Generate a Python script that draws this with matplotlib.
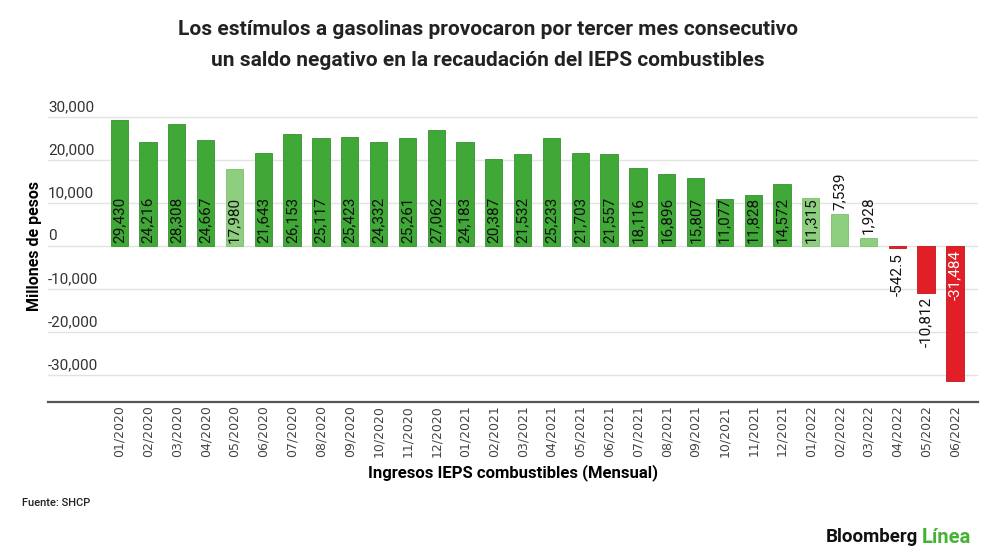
import matplotlib
matplotlib.use("Agg")
import matplotlib.pyplot as plt
import numpy as np

plt.rcParams['font.family'] = ['Roboto', 'DejaVu Sans']

months = ["01/2020", "02/2020", "03/2020", "04/2020", "05/2020", "06/2020",
          "07/2020", "08/2020", "09/2020", "10/2020", "11/2020", "12/2020",
          "01/2021", "02/2021", "03/2021", "04/2021", "05/2021", "06/2021",
          "07/2021", "08/2021", "09/2021", "10/2021", "11/2021", "12/2021",
          "01/2022", "02/2022", "03/2022", "04/2022", "05/2022", "06/2022"]
values = [29430, 24216, 28308, 24667, 17980, 21643,
          26153, 25117, 25423, 24332, 25261, 27062,
          24183, 20387, 21532, 25233, 21703, 21557,
          18116, 16896, 15807, 11077, 11828, 14572,
          11315, 7539, 1928, -542.5, -10812, -31484]
light = ["05/2020", "01/2022", "02/2022", "03/2022"]
yticks = [-30000, -20000, -10000, 0, 10000, 20000, 30000]

dark_green = "#40a836"
light_green = "#8dcf7f"
red = "#e21f26"

fig = plt.figure(figsize=(10, 5.6), dpi=100)
ax = fig.add_axes([0.048, 0.282, 0.930, 0.539])

x = np.arange(len(months))
colors = []
edges = []
for m, v in zip(months, values):
    if v < 0:
        colors.append(red)
        edges.append("#c0161c")
    elif m in light:
        colors.append(light_green)
        edges.append("#7cc06d")
    else:
        colors.append(dark_green)
        edges.append("#35922d")

ax.bar(x, values, width=0.6, color=colors, edgecolor=edges, linewidth=0.6, zorder=2)

for i, v in enumerate(values):
    if float(v).is_integer():
        lab = f"{int(v):,}"
    else:
        lab = f"{v:,}"
    if v >= 0:
        if v > 10000:
            ax.annotate(lab, (x[i], 0), xytext=(0, 2), textcoords="offset points",
                        rotation=90, ha="center", va="bottom", fontsize=11, color="#111111")
        else:
            ax.annotate(lab, (x[i], v), xytext=(0, 3), textcoords="offset points",
                        rotation=90, ha="center", va="bottom", fontsize=11, color="#111111")
    else:
        if v < -20000:
            ax.annotate(lab, (x[i], 0), xytext=(0, -3), textcoords="offset points",
                        rotation=90, ha="center", va="top", fontsize=11, color="white")
        else:
            ax.annotate(lab, (x[i], v), xytext=(0, -3), textcoords="offset points",
                        rotation=90, ha="center", va="top", fontsize=11, color="#111111")

ax.set_xlim(-2.47, len(months) - 0.2)
ax.set_ylim(-36280, 33950)

for t in yticks:
    ax.axhline(t, color="#e3e3e3", linewidth=1, zorder=1)
    ax.text(0, t + 700, f"{t:,}", transform=ax.get_yaxis_transform(),
            ha="left", va="bottom", fontsize=11, color="#333333")

ax.set_yticks([])
ax.set_xticks(x)
ax.set_xticklabels(months, rotation=90, family="DejaVu Sans", fontsize=9, color="#444444")
ax.tick_params(axis="x", length=0, pad=2)

for s in ["top", "right", "left"]:
    ax.spines[s].set_visible(False)
ax.spines["bottom"].set_color("#555555")
ax.spines["bottom"].set_linewidth(1.6)

ax.set_xlabel("Ingresos IEPS combustibles (Mensual)", fontsize=12, fontweight="bold", labelpad=5)
fig.text(0.035, 0.56, "Millones de pesos", rotation=90, ha="center", va="center",
         fontsize=11.5, fontweight="bold")

fig.text(0.488, 0.948, "Los estímulos a gasolinas provocaron por tercer mes consecutivo",
         ha="center", va="center", fontsize=15, fontweight="bold", color="#222222")
fig.text(0.488, 0.892, "un saldo negativo en la recaudación del IEPS combustibles",
         ha="center", va="center", fontsize=15, fontweight="bold", color="#222222")

fig.text(0.022, 0.102, "Fuente: SHCP", ha="left", va="center", fontsize=8,
         fontweight="medium", color="#222222")
fig.text(0.918, 0.041, "Bloomberg", ha="right", va="center", fontsize=13.5,
         fontweight="bold", color="#111111")
fig.text(0.922, 0.041, "Línea", ha="left", va="center", fontsize=14.5,
         fontweight="bold", color="#46b234")

fig.savefig("out.png", dpi=100)
